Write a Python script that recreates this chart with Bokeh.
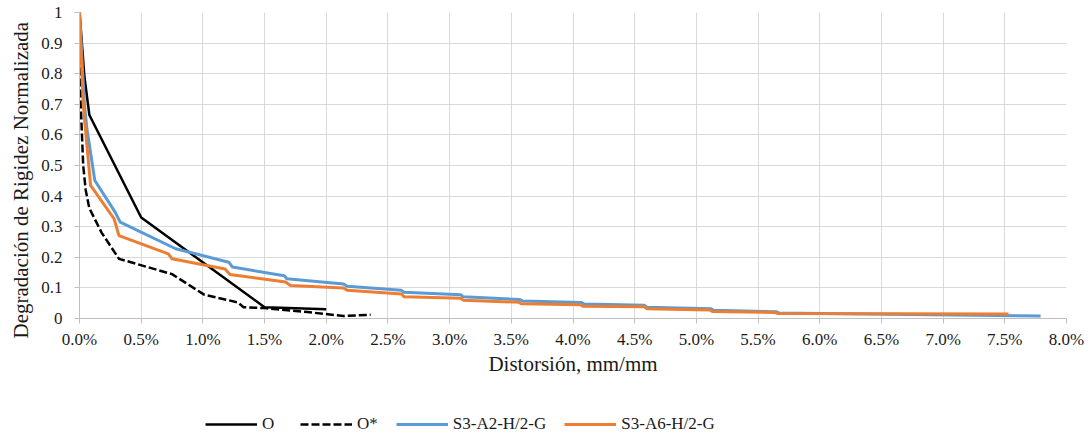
from bokeh.plotting import figure
from bokeh.layouts import column
from bokeh.models import Range1d, FixedTicker, CustomJSTickFormatter, Legend, LegendItem, Title
from bokeh.embed import file_html
from bokeh.resources import INLINE

# ---- data ----
o_x = [0.0, 0.0001, 0.0004, 0.0008, 0.0050, 0.0150, 0.0200]
o_y = [1.0, 0.95, 0.79, 0.665, 0.330, 0.037, 0.030]

ostar_x = [0.0, 0.0001, 0.0003, 0.0005, 0.0008, 0.0018, 0.0032, 0.0075, 0.0101, 0.0128,
           0.0133, 0.0150, 0.0185, 0.0214, 0.0236]
ostar_y = [1.0, 0.70, 0.50, 0.42, 0.36, 0.28, 0.195, 0.145, 0.078, 0.053,
           0.037, 0.034, 0.021, 0.008, 0.012]

a2_x = [0.0, 0.0004, 0.0006, 0.00124, 0.0029, 0.0033, 0.0078, 0.0121, 0.0124, 0.0166,
        0.0168, 0.0214, 0.0217, 0.0261, 0.0263, 0.0309, 0.0311, 0.0357, 0.0359, 0.0407,
        0.0409, 0.0458, 0.0460, 0.0512, 0.0514, 0.0565, 0.0567, 0.0779]
a2_y = [1.0, 0.70, 0.62, 0.451, 0.347, 0.315, 0.228, 0.184, 0.168, 0.140,
        0.130, 0.113, 0.105, 0.092, 0.086, 0.078, 0.071, 0.062, 0.057, 0.052,
        0.047, 0.043, 0.037, 0.032, 0.027, 0.022, 0.018, 0.008]

a6_x = [0.0, 0.0003, 0.0009, 0.0028, 0.0032, 0.0072, 0.0075, 0.0118, 0.0122, 0.0167,
        0.0171, 0.0214, 0.0217, 0.0261, 0.0263, 0.0309, 0.0311, 0.0356, 0.0358, 0.0406,
        0.0408, 0.0458, 0.0460, 0.0511, 0.0513, 0.0564, 0.0566, 0.0753]
a6_y = [1.0, 0.70, 0.435, 0.326, 0.271, 0.211, 0.195, 0.162, 0.144, 0.119,
        0.108, 0.100, 0.092, 0.080, 0.071, 0.066, 0.060, 0.053, 0.048, 0.045,
        0.040, 0.038, 0.032, 0.028, 0.023, 0.020, 0.016, 0.015]

x_ticks = [i * 0.005 for i in range(17)]
y_ticks = [i / 10 for i in range(11)]

series_names = ["O", "O*", "S3-A2-H/2-G", "S3-A6-H/2-G"]
series_colors = ["black", "black", "#5B9BD5", "#ED7D31"]
series_widths = [2.5, 2.5, 3, 3]
series_dashes = ["solid", "8 3", "solid", "solid"]
x_title = "Distorsión, mm/mm"
y_title = "Degradación de Rigidez Normalizada"

FONT = "Liberation Serif"
TXT = "#1a1a1a"

p = figure(width=1091, height=400, output_backend="svg", toolbar_location=None,
           x_range=Range1d(0, 0.08), y_range=Range1d(0, 1),
           min_border_left=79, min_border_right=25, min_border_top=12, min_border_bottom=82)
p.outline_line_color = None
p.background_fill_color = "white"
p.border_fill_color = "white"

# grid
for g in (p.xgrid, p.ygrid):
    g.grid_line_color = "#d9d9d9"
    g.grid_line_width = 1
p.xgrid.ticker = FixedTicker(ticks=x_ticks)
p.ygrid.ticker = FixedTicker(ticks=y_ticks)

# axes
p.xaxis.ticker = FixedTicker(ticks=x_ticks)
p.yaxis.ticker = FixedTicker(ticks=y_ticks)
p.xaxis.formatter = CustomJSTickFormatter(code="return (tick*100).toFixed(1) + '%';")
p.yaxis.formatter = CustomJSTickFormatter(
    code="if (Math.abs(tick) < 1e-9) return '0'; if (Math.abs(tick-1) < 1e-9) return '1'; return tick.toFixed(1);")
for ax in (p.xaxis, p.yaxis):
    ax.axis_line_color = "#bfbfbf"
    ax.major_tick_line_color = "#bfbfbf"
    ax.major_tick_out = 5
    ax.major_tick_in = 0
    ax.minor_tick_line_color = None
    ax.major_label_text_font = FONT
    ax.major_label_text_font_size = "17px"
    ax.major_label_text_color = TXT
    ax.axis_label_text_font = FONT
    ax.axis_label_text_font_size = "21px"
    ax.axis_label_text_font_style = "normal"
    ax.axis_label_text_color = TXT
p.xaxis.major_label_standoff = 6
p.yaxis.major_label_standoff = 12
p.xaxis.axis_label = x_title
p.xaxis.axis_label_standoff = 0

# y title (shifted slightly down like the reference)
yt = Title(text=y_title, align="left", offset=-20, standoff=11,
           text_font=FONT, text_font_size="21px", text_font_style="normal", text_color=TXT)
p.add_layout(yt, "left")

xs = [o_x, ostar_x, a2_x, a6_x]
ys = [o_y, ostar_y, a2_y, a6_y]
for x, y, c, w, d in zip(xs, ys, series_colors, series_widths, series_dashes):
    p.line(x, y, line_color=c, line_width=w, line_dash=d, line_join="round")

# legend strip below the chart (its frame is aligned with the chart's frame by the column)
lf = figure(width=1091, height=36, output_backend="svg", toolbar_location=None,
            x_range=Range1d(10, 11), y_range=Range1d(10, 11),
            x_axis_location=None, y_axis_location=None,
            min_border=0, min_border_left=0, min_border_right=0, min_border_top=0, min_border_bottom=0)
lf.outline_line_color = None
lf.xgrid.visible = False
lf.ygrid.visible = False
lf.background_fill_color = "white"
lf.border_fill_color = "white"
items = []
for n, x, y, c, w, d in zip(series_names, xs, ys, series_colors, series_widths, series_dashes):
    # same series, drawn outside this strip's visible range: only the legend glyph shows
    r = lf.line(x, y, line_color=c, line_width=w, line_dash=d)
    items.append(LegendItem(label=n, renderers=[r]))
legend = Legend(items=items, orientation="horizontal", location=(126, 2),
                glyph_width=52, glyph_height=16, label_height=16, label_standoff=5,
                spacing=18, padding=0, margin=0,
                border_line_color=None, background_fill_alpha=0,
                label_text_font=FONT, label_text_font_size="17px", label_text_color=TXT)
lf.add_layout(legend, "center")

layout = column(p, lf, spacing=0)
open("out.html", "w").write(file_html(layout, INLINE))
